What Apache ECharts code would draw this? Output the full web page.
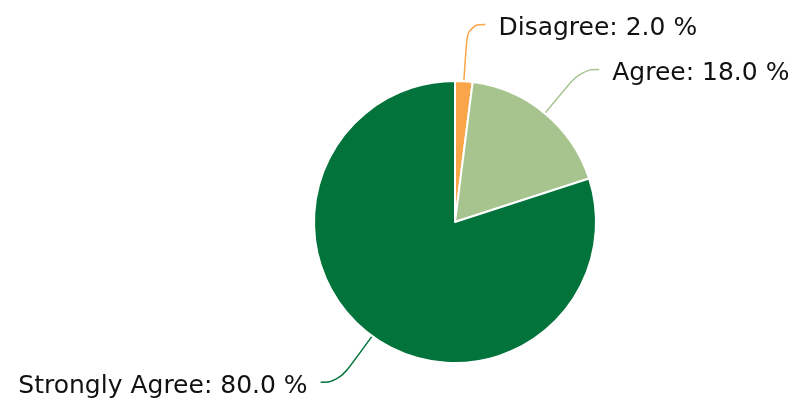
<!DOCTYPE html>
<html><head><meta charset="utf-8">
<script src="https://cdn.jsdelivr.net/npm/echarts@6/dist/echarts.min.js"></script>
<style>html,body{margin:0;padding:0;background:#fff}#c{width:793px;height:406px}</style>
</head><body><div id="c"></div>
<script>
const categories = ["Disagree", "Agree", "Strongly Agree"];
const values = [2.0, 18.0, 80.0];
const colors = ["#f9a64a", "#a7c48f", "#02733a"];

const chart = echarts.init(document.getElementById('c'), null, {renderer: 'canvas'});
chart.setOption({
  animation: false,
  series: [{
    type: 'pie',
    center: [455, 222],
    radius: 141,
    startAngle: 90,
    clockwise: true,
    data: categories.map((c, i) => ({name: c, value: values[i], itemStyle: {color: colors[i]}})),
    itemStyle: {borderColor: '#fff', borderWidth: 2},
    label: {
      formatter: p => '{t|' + p.name + ': ' + p.value.toFixed(1) + ' %}',
      overflow: 'none',
      distanceToLabelLine: 13,
      rich: {
        t: {
          fontFamily: 'DejaVu Sans, sans-serif',
          fontSize: 25,
          color: '#111',
          padding: [9, 0, 0, 0]
        }
      }
    },
    labelLine: {length: 57, length2: 18, smooth: 0.5, lineStyle: {width: 1.5}}
  }]
});
</script></body></html>
